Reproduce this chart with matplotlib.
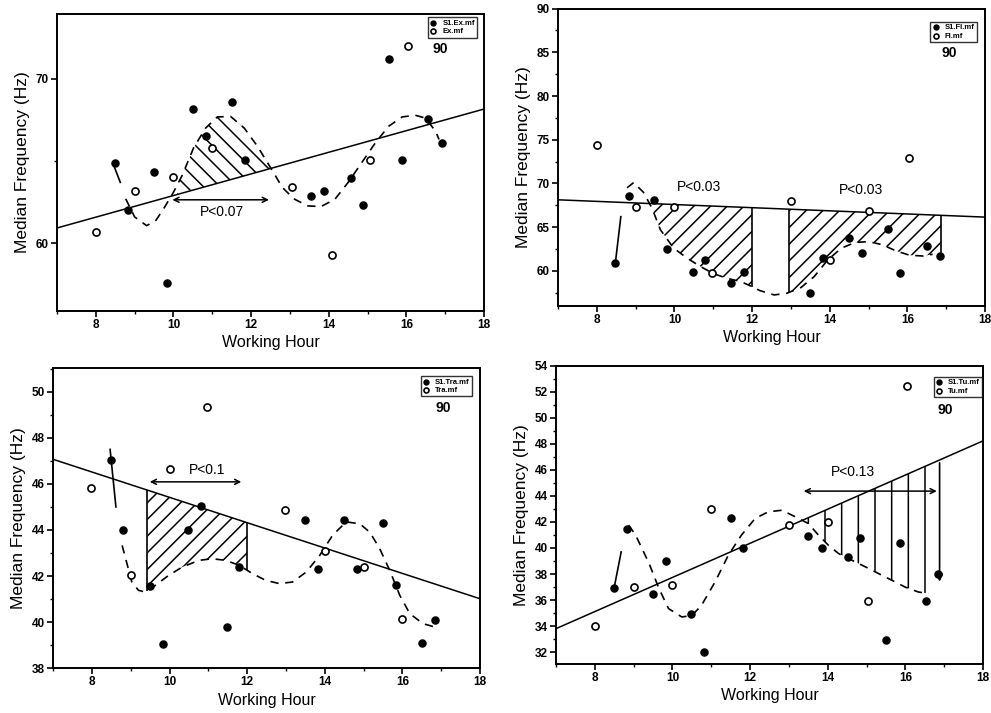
import numpy as np
import matplotlib
matplotlib.use('Agg')
import matplotlib.pyplot as plt
from matplotlib.ticker import MultipleLocator

plt.rcParams['font.family'] = ['Liberation Sans Narrow', 'Liberation Sans', 'DejaVu Sans']
plt.rcParams['font.weight'] = 'bold'
plt.rcParams['hatch.linewidth'] = 1.1
plt.rcParams['hatch.color'] = 'black'

# ---------------- datos ----------------
# Panel 1: Ex
ex_s1_x = [8.49, 8.82, 9.50, 9.84, 10.50, 10.83, 11.50, 11.83, 13.54, 13.87, 14.56, 14.88, 15.55, 15.88, 16.56, 16.92]
ex_s1_y = [64.85, 62.03, 64.35, 57.6, 68.15, 66.5, 68.6, 65.05, 62.86, 63.2, 63.95, 62.3, 71.17, 65.07, 67.57, 66.1]
ex_x = [8.0, 9.0, 10.0, 11.0, 13.04, 14.07, 15.05, 16.05]
ex_y = [60.66, 63.2, 64.05, 65.8, 63.4, 59.28, 65.05, 72.0]
ex_fit = [60.93, 68.15]
ex_lead_x = [8.45, 8.63]
ex_lead_y = [64.8, 63.7]
ex_curve_x = [8.77, 9.0, 9.31, 9.55, 9.74, 10.0, 10.22, 10.52, 10.83, 11.13, 11.47, 11.82, 12.16, 12.42,
              12.6, 12.8, 13.1, 13.46, 13.8, 14.16, 14.5, 14.85, 15.2, 15.54, 15.89, 16.23, 16.49, 16.75, 16.84]
ex_curve_y = [62.7, 61.6, 61.07, 61.4, 62.07, 63.1, 64.1, 65.8, 67.0, 67.67, 67.7, 67.0, 65.9, 64.9,
              64.2, 63.4, 62.7, 62.27, 62.23, 62.68, 63.7, 64.9, 66.1, 67.1, 67.67, 67.77, 67.6, 66.8, 66.3]

# Panel 2: Fl
fl_s1_x = [8.48, 8.82, 9.48, 9.80, 10.47, 10.79, 11.47, 11.79, 13.48, 13.83, 14.50, 14.83, 15.50, 15.82, 16.50, 16.84]
fl_s1_y = [60.95, 68.6, 68.1, 62.5, 59.9, 61.3, 58.6, 59.9, 57.5, 61.45, 63.8, 62.1, 64.8, 59.8, 62.8, 61.75]
fl_x = [8.0, 9.0, 10.0, 10.97, 13.0, 14.0, 15.0, 16.03]
fl_y = [74.35, 67.3, 67.3, 59.8, 68.0, 61.26, 66.9, 72.9]
fl_fit = [68.13, 66.15]
fl_lead_x = [8.48, 8.62]
fl_lead_y = [60.95, 66.2]
fl_curve_x = [8.78, 8.95, 9.2, 9.42, 9.64, 9.98, 10.33, 10.67, 11.0, 11.35, 11.7, 12.0, 12.2, 12.57,
              12.9, 13.26, 13.6, 13.95, 14.3, 14.65, 15.0, 15.35, 15.7, 16.05, 16.4, 16.65]
fl_curve_y = [69.5, 70.1, 69.0, 67.2, 64.7, 62.6, 61.45, 60.5, 59.7, 59.15, 58.8, 58.2, 57.75, 57.25,
              57.45, 58.1, 59.35, 61.26, 62.6, 63.25, 63.35, 63.0, 62.3, 61.8, 61.7, 61.9]

# Panel 3: Tra
tra_s1_x = [8.49, 8.81, 9.51, 9.82, 10.47, 10.80, 11.48, 11.80, 13.50, 13.83, 14.50, 14.83, 15.50, 15.84, 16.51, 16.84]
tra_s1_y = [47.03, 44.0, 41.57, 39.04, 44.0, 45.04, 39.8, 42.38, 44.43, 42.32, 44.43, 42.32, 44.3, 41.6, 39.09, 40.1]
tra_x = [7.98, 9.0, 10.0, 10.97, 12.98, 14.0, 15.0, 16.0]
tra_y = [45.83, 42.03, 46.67, 49.35, 44.86, 43.07, 42.4, 40.12]
tra_fit = [47.07, 41.01]
tra_lead_x = [8.47, 8.62]
tra_lead_y = [47.5, 45.0]
tra_curve_x = [8.78, 9.03, 9.2, 9.38, 9.64, 9.98, 10.33, 10.76, 11.1, 11.45, 11.8, 12.14, 12.48, 12.83,
               13.17, 13.52, 13.87, 14.2, 14.55, 14.9, 15.16, 15.41, 15.67, 15.93, 16.19, 16.53, 16.84]
tra_curve_y = [43.33, 41.74, 41.38, 41.3, 41.6, 42.03, 42.39, 42.68, 42.75, 42.68, 42.46, 42.1, 41.81, 41.67,
               41.74, 42.17, 42.9, 43.77, 44.35, 44.27, 43.9, 43.2, 42.25, 41.16, 40.36, 39.93, 39.78]

# Panel 4: Tu
tu_s1_x = [8.50, 8.84, 9.50, 9.83, 10.49, 10.81, 11.50, 11.82, 13.50, 13.84, 14.51, 14.84, 15.51, 15.85, 16.52, 16.85]
tu_s1_y = [36.96, 41.45, 36.5, 39.0, 34.95, 32.0, 42.27, 39.98, 40.9, 39.98, 39.3, 40.73, 32.95, 40.42, 35.95, 37.98]
tu_x = [8.0, 9.02, 10.0, 11.0, 12.99, 14.0, 15.03, 16.04]
tu_y = [34.0, 37.0, 37.19, 43.0, 41.76, 42.0, 35.95, 52.46]
tu_fit = [33.8, 48.23]
tu_lead_x = [8.5, 8.68]
tu_lead_y = [36.96, 39.7]
tu_curve_x = [8.87, 9.05, 9.4, 9.65, 9.9, 10.24, 10.5, 10.75, 11.1, 11.44, 11.78, 12.13, 12.47, 12.82,
              13.16, 13.5, 13.76, 14.02, 14.28, 14.62, 14.97, 15.31, 15.65, 15.99, 16.33, 16.6]
tu_curve_y = [41.76, 41.0, 38.8, 36.9, 35.34, 34.7, 34.8, 35.6, 37.4, 39.45, 41.0, 42.27, 42.78, 42.9,
              42.4, 41.88, 40.99, 40.2, 39.57, 39.06, 38.55, 38.03, 37.52, 37.0, 36.62, 36.49]

fit_x = [7, 18]

paneles = [
    dict(s1x=ex_s1_x, s1y=ex_s1_y, ox=ex_x, oy=ex_y, fit=ex_fit, lx=ex_lead_x, ly=ex_lead_y,
         cx=ex_curve_x, cy=ex_curve_y, labels=['S1.Ex.mf', 'Ex.mf'],
         ylim=(55.9, 73.9), major=10, minor=5,
         hatch='\\\\', zonas=[(10.1, 12.55)], bordes=[],
         pos=[0.0575, 0.564, 0.431, 0.416],
         flecha=(9.9, 12.53, 62.64), ptxt='P<0.07', ppos=[(11.26, 61.9)],
         leg=(0.984, 0.99), t90=(0.897, 0.882)),
    dict(s1x=fl_s1_x, s1y=fl_s1_y, ox=fl_x, oy=fl_y, fit=fl_fit, lx=fl_lead_x, ly=fl_lead_y,
         cx=fl_curve_x, cy=fl_curve_y, labels=['S1.Fl.mf', 'Fl.mf'],
         ylim=(56, 90), major=5, minor=2.5,
         hatch='//', zonas=[(9.35, 12.0), (12.95, 16.87)], bordes=[12.0, 12.95, 16.87],
         pos=[0.563, 0.571, 0.431, 0.417],
         flecha=None, ptxt='P<0.03', ppos=[(10.63, 69.65), (14.8, 69.2)],
         leg=(0.981, 0.956), t90=(0.916, 0.852)),
    dict(s1x=tra_s1_x, s1y=tra_s1_y, ox=tra_x, oy=tra_y, fit=tra_fit, lx=tra_lead_x, ly=tra_lead_y,
         cx=tra_curve_x, cy=tra_curve_y, labels=['S1.Tra.mf', 'Tra.mf'],
         ylim=(38, 51.04), major=2, minor=1,
         hatch='//', zonas=[(9.43, 12.0)], bordes=[9.43, 12.0],
         pos=[0.0535, 0.063, 0.431, 0.421],
         flecha=(9.42, 11.92, 46.09), ptxt='P<0.1', ppos=[(10.97, 46.6)],
         leg=(0.981, 0.973), t90=(0.913, 0.867)),
    dict(s1x=tu_s1_x, s1y=tu_s1_y, ox=tu_x, oy=tu_y, fit=tu_fit, lx=tu_lead_x, ly=tu_lead_y,
         cx=tu_curve_x, cy=tu_curve_y, labels=['S1.Tu.mf', 'Tu.mf'],
         ylim=(31.1, 54), major=2, minor=1,
         hatch='|', zonas=[(13.4, 16.88)], bordes=[],
         pos=[0.561, 0.069, 0.431, 0.418],
         flecha=(13.31, 16.88, 44.37), ptxt='P<0.13', ppos=[(14.66, 45.8)],
         leg=(0.998, 0.963), t90=(0.911, 0.852)),
]

fig = plt.figure(figsize=(9.91, 7.13), dpi=100)

for p in paneles:
    ax = fig.add_axes(p['pos'])

    # linea de regresion
    ax.plot(fit_x, p['fit'], color='black', lw=1.1, zorder=3)

    # curva ajustada (tramo inicial solido + discontinua)
    ax.plot(p['lx'], p['ly'], color='black', lw=1.2, zorder=3)
    ax.plot(p['cx'], p['cy'], color='black', lw=1.2, dashes=(5, 4), zorder=3)

    # zonas rayadas entre curva y recta
    for a, b in p['zonas']:
        xs = np.linspace(a, b, 120)
        yc = np.interp(xs, p['cx'], p['cy'])
        yl = np.interp(xs, fit_x, p['fit'])
        ax.fill_between(xs, yc, yl, facecolor='none', edgecolor='black', linewidth=0,
                        hatch=p['hatch'], zorder=2)
    for xb in p['bordes']:
        ax.vlines(xb, np.interp(xb, p['cx'], p['cy']), np.interp(xb, fit_x, p['fit']),
                  color='black', lw=1.2, zorder=3)

    # puntos
    ax.scatter(p['s1x'], p['s1y'], s=26, facecolor='black', edgecolor='black', zorder=4,
               label=p['labels'][0])
    ax.scatter(p['ox'], p['oy'], s=26, facecolor='white', edgecolor='black', linewidths=1.2,
               zorder=4, label=p['labels'][1])

    # flechas y texto P
    if p['flecha'] is not None:
        x0, x1, yf = p['flecha']
        ax.annotate('', xy=(x0, yf), xytext=(x1, yf),
                    arrowprops=dict(arrowstyle='<->', color='black', lw=1.1, mutation_scale=9))
    for px, py in p['ppos']:
        ax.text(px, py, p['ptxt'], ha='center', va='center', fontsize=10, fontweight='normal')

    if p['labels'][1] == 'Tu.mf':
        xa = p['zonas'][0][1]
        ax.annotate('', xy=(xa, 37.2), xytext=(xa, np.interp(xa, fit_x, p['fit'])),
                    arrowprops=dict(arrowstyle='-|>', color='black', lw=1.2, mutation_scale=10))

    # ejes
    ax.set_xlim(7, 18)
    ax.set_ylim(*p['ylim'])
    ax.xaxis.set_major_locator(MultipleLocator(2))
    ax.xaxis.set_minor_locator(MultipleLocator(1))
    ax.yaxis.set_major_locator(MultipleLocator(p['major']))
    ax.yaxis.set_minor_locator(MultipleLocator(p['minor']))
    ax.tick_params(which='major', length=4, width=1.2, labelsize=8.5, pad=2)
    ax.tick_params(which='minor', length=2, width=1.0)
    for lab in ax.get_xticklabels() + ax.get_yticklabels():
        lab.set_fontweight('bold')
    for sp in ax.spines.values():
        sp.set_linewidth(1.4)
    ax.set_xlabel('Working Hour', fontsize=11.5, fontweight='normal', labelpad=3)
    ax.set_ylabel('Median Frequency (Hz)', fontsize=12.5, fontweight='normal', labelpad=4)

    leg = ax.legend(loc='upper right', bbox_to_anchor=p['leg'], fontsize=5.5, frameon=True,
                    fancybox=False, edgecolor='black', handlelength=0.8, handletextpad=0.8,
                    borderpad=0.3, labelspacing=0.15, markerscale=0.7, borderaxespad=0)
    leg.get_frame().set_linewidth(1.0)
    ax.text(p['t90'][0], p['t90'][1], '90', transform=ax.transAxes, ha='center', va='center',
            fontsize=10, fontweight='bold')

fig.savefig('out.png', dpi=100)
